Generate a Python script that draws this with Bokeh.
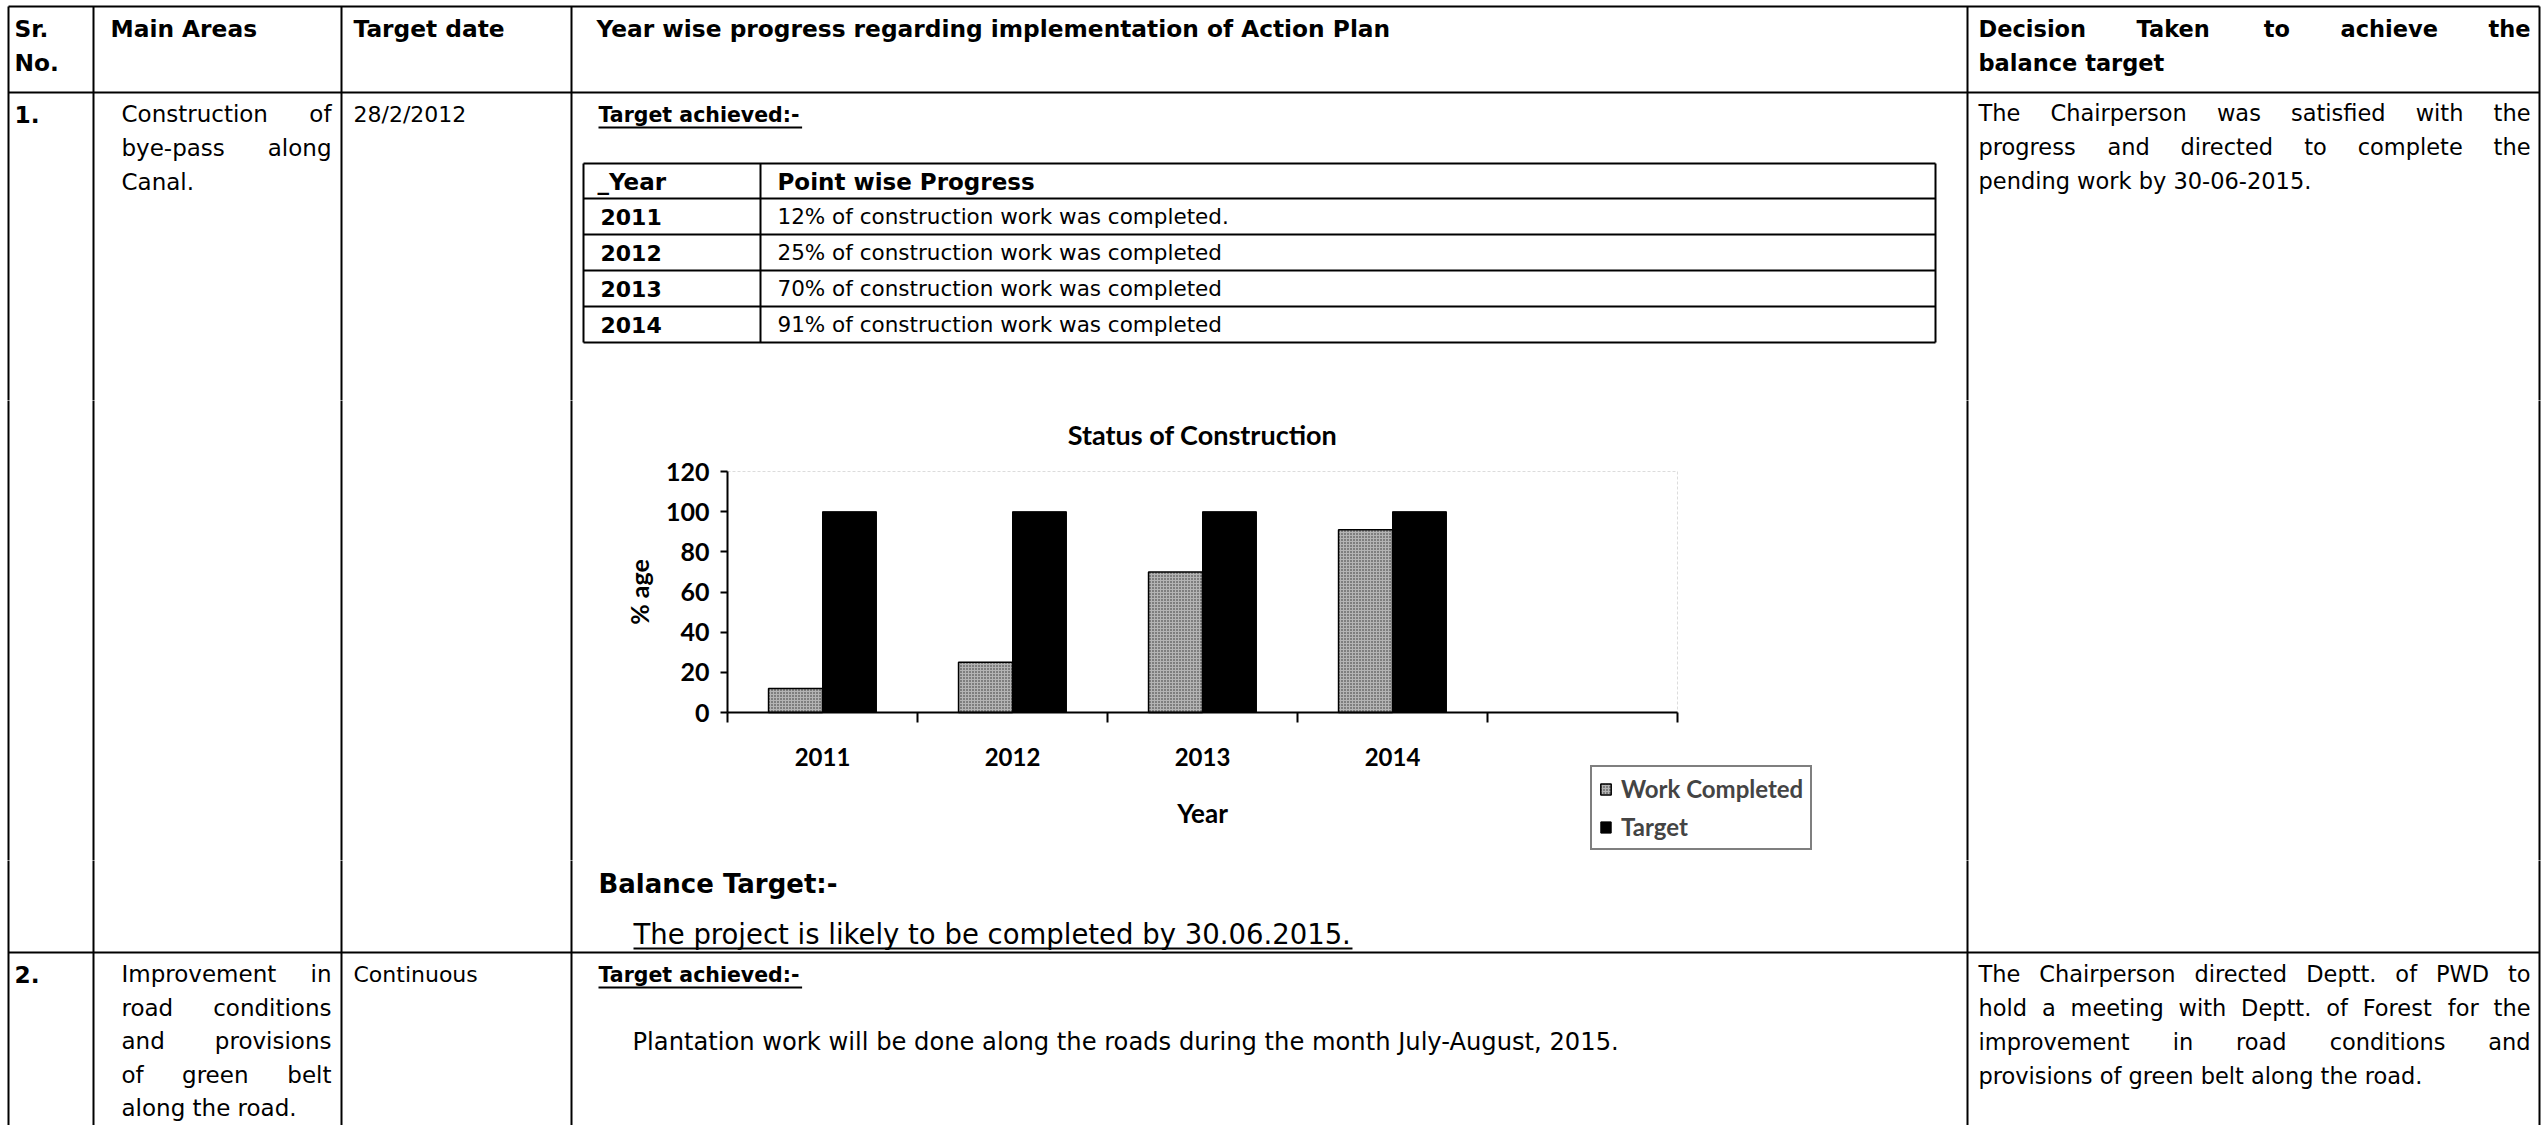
from bokeh.plotting import figure
from bokeh.models import (Range1d, FixedTicker, ColumnDataSource, Legend, LegendItem,
                          Label, BoxAnnotation)
from bokeh.layouts import column, row
from bokeh.transform import dodge
from bokeh.core.properties import value
from bokeh.embed import file_html
from bokeh.resources import INLINE

# ---------------- chart data ----------------
years = ["2011", "2012", "2013", "2014"]
work_completed = [12, 25, 70, 91]
target = [100, 100, 100, 100]
y_ticks = [0, 20, 40, 60, 80, 100, 120]
n_slots = 5  # four years + one empty category slot on the axis
series_names = ["Work Completed", "Target"]
chart_title = "Status of Construction"

# ---------------- table text ----------------
hdr_sr = ["Sr.", "No."]
hdr_main = "Main Areas"
hdr_date = "Target date"
hdr_prog = "Year wise progress regarding implementation of Action Plan"
hdr_dec = ["Decision Taken to achieve the", "balance target"]

r1_no = "1."
r1_area = ["Construction of", "bye-pass along", "Canal."]
r1_date = "28/2/2012"
r1_head = "Target achieved:-"
inner_hdr = ["_Year", "Point wise Progress"]
prog_years = ["2011", "2012", "2013", "2014"]
prog_text = ["12% of construction work was completed.",
             "25% of construction work was completed",
             "70% of construction work was completed",
             "91% of construction work was completed"]
r1_dec = ["The Chairperson was satisfied with the",
          "progress and directed to complete the",
          "pending work by 30-06-2015."]
bal_head = "Balance Target:-"
bal_text = "The project is likely to be completed by 30.06.2015."

r2_no = "2."
r2_area = ["Improvement in", "road conditions", "and provisions", "of green belt", "along the road."]
r2_date = "Continuous"
r2_head = "Target achieved:-"
r2_text = "Plantation work will be done along the roads during the month July-August, 2015."
r2_dec = ["The Chairperson directed Deptt. of PWD to",
          "hold a meeting with Deptt. of Forest for the",
          "improvement in road conditions and",
          "provisions of green belt along the road."]

# ---------------- text metrics (approx. DejaVu Sans advance widths) ----------------
REG = {' ': .318, 'a': .613, 'b': .635, 'c': .550, 'd': .635, 'e': .615, 'f': .352, 'g': .635,
       'h': .634, 'i': .278, 'j': .278, 'k': .579, 'l': .278, 'm': .974, 'n': .634, 'o': .612,
       'p': .635, 'q': .635, 'r': .411, 's': .521, 't': .392, 'u': .634, 'v': .592, 'w': .818,
       'x': .592, 'y': .592, 'z': .525, 'A': .684, 'B': .686, 'C': .698, 'D': .770, 'E': .632,
       'F': .575, 'G': .775, 'H': .752, 'I': .295, 'J': .295, 'K': .656, 'L': .557, 'M': .863,
       'N': .748, 'O': .787, 'P': .603, 'R': .695, 'S': .635, 'T': .611, 'U': .732, 'V': .684,
       'W': .989, 'Y': .611, '.': .318, ',': .318, '-': .361, ':': .337, '%': .950, '/': .337}
BOLD = {' ': .348, 'a': .675, 'b': .716, 'c': .593, 'd': .716, 'e': .678, 'f': .435, 'g': .716,
        'h': .712, 'i': .343, 'k': .665, 'l': .343, 'm': 1.042, 'n': .712, 'o': .687, 'p': .716,
        'r': .493, 's': .595, 't': .478, 'u': .712, 'v': .652, 'w': .924, 'y': .652, 'A': .774,
        'B': .762, 'C': .734, 'D': .830, 'M': .995, 'N': .837, 'P': .733, 'S': .720, 'T': .682,
        'Y': .724, '.': .380, ':': .400, '-': .415, '_': .5}


def tw(s, size, bold=False):
    tbl = BOLD if bold else REG
    dflt = 0.696 if bold else 0.636
    return size * sum(tbl.get(c, dflt) for c in s)


FONT = "DejaVu Sans"
BASE_FIX = 0.35   # renderer draws 'alphabetic' text ~0.35em low; compensate
items = []      # (x, y, text, size, bold, align)
segs = []       # (x0, y0, x1, y1)


def put(x, y, s, size, bold=False, align="left"):
    items.append((x, y, s, size, bold, align))


def put_par(lines, x0, x1, y0, dy, size, bold=False):
    for k, line in enumerate(lines):
        y = y0 + k * dy
        words = line.split()
        if k == len(lines) - 1 or len(words) < 2:
            put(x0, y, line, size, bold)
            continue
        ws = [tw(w, size, bold) for w in words]
        gap = max((x1 - x0 - sum(ws)) / (len(words) - 1), tw(" ", size, bold))
        x = x0
        for i, (w, wd) in enumerate(zip(words, ws)):
            if i == len(words) - 1:
                put(x1, y, w, size, bold, "right")
            else:
                put(x, y, w, size, bold)
            x += wd + gap


# ---------------- page geometry (screen px, page origin at 0,0) ----------------
PX0, PY0, PX1, PY1 = 0, 0, 2544, 1125
COLS = [8, 93, 341, 571, 1967, 2539]
ROWS = [6, 92, 952]
INNER_X = [583, 760, 1935]
INNER_Y = [163, 198, 234, 270, 306, 342]
BAND_Y = [PY0, 400, 860, PY1]
MID_X = [PX0, 578, 1960, PX1]

for y in ROWS:
    segs.append((COLS[0], y, COLS[-1], y))
for x in COLS:
    segs.append((x, ROWS[0], x, PY1 + 5))
for y in INNER_Y:
    segs.append((INNER_X[0], y, INNER_X[-1], y))
for x in INNER_X:
    segs.append((x, INNER_Y[0], x, INNER_Y[-1]))

HB, BODY, DSZ, RSZ, TA = 23.3, 23, 22, 22.5, 20.5
# header
put(14, 36, hdr_sr[0], HB, True)
put(14, 70, hdr_sr[1], HB, True)
put(110, 36, hdr_main, HB, True)
put(353, 36, hdr_date, HB, True)
put(596, 36, hdr_prog, HB, True)
put_par(hdr_dec, 1978, 2530, 36, 34, RSZ, True)
# row 1
put(14, 122, r1_no, HB, True)
put_par(r1_area, 121, 331, 122, 34, BODY)
put(353, 122, r1_date, DSZ)
put(598, 122, r1_head, TA, True)
segs.append((598, 127, 598 + tw(r1_head, TA, True), 127))
put(597, 190, inner_hdr[0], 23, True)
put(777, 190, inner_hdr[1], 23, True)
for k, (yr, txt) in enumerate(zip(prog_years, prog_text)):
    put(600, 224 + 36 * k, yr, 22, True)
    put(777, 224 + 36 * k, txt, 21.5)
put_par(r1_dec, 1978, 2530, 120, 34, RSZ)
put(598, 893, bal_head, 26, True)
put(633, 943, bal_text, 27.5)
segs.append((633, 948, 633 + tw(bal_text, 27.5), 948))
# row 2
put(14, 982, r2_no, HB, True)
put_par(r2_area, 121, 331, 982, 33.5, BODY)
put(353, 982, r2_date, DSZ)
put(598, 982, r2_head, TA, True)
segs.append((598, 987, 598 + tw(r2_head, TA, True), 987))
put(632, 1050, r2_text, 24.2)
put_par(r2_dec, 1978, 2530, 981, 34, RSZ)


def band(x0, x1, y0, y1):
    f = figure(width=x1 - x0, height=y1 - y0, x_range=Range1d(x0, x1), y_range=Range1d(y1, y0),
               output_backend="svg", toolbar_location=None, x_axis_type=None, y_axis_type=None,
               min_border=0, outline_line_color=None, background_fill_color="white",
               border_fill_color="white")
    f.grid.visible = False
    f.segment(x0=[s[0] for s in segs], y0=[s[1] for s in segs],
              x1=[s[2] for s in segs], y1=[s[3] for s in segs],
              line_color="black", line_width=2)
    groups = {}
    for (x, y, s, size, bold, align) in items:
        if y0 - 5 <= y <= y1 + 30 and x0 - 5 <= x <= x1 + 5:
            groups.setdefault((size, bold, align), []).append((x, y - BASE_FIX * size, s))
    for (size, bold, align), g in groups.items():
        f.text(x=[a[0] for a in g], y=[a[1] for a in g], text=[a[2] for a in g],
               text_font=value(FONT), text_font_size=value(f"{size}px"),
               text_font_style="bold" if bold else "normal", text_color="black",
               text_align=align, text_baseline="alphabetic")
    return f


top = band(PX0, PX1, BAND_Y[0], BAND_Y[1])
left = band(MID_X[0], MID_X[1], BAND_Y[1], BAND_Y[2])
right = band(MID_X[2], MID_X[3], BAND_Y[1], BAND_Y[2])
bottom = band(PX0, PX1, BAND_Y[2], BAND_Y[3])

# ---------------- chart ----------------
# The chart figure's frame fills the whole figure; axes are drawn at fixed data
# locations so that the legend (outside the plot area) is not clipped.
CF = "Lato"
CW, CH = MID_X[2] - MID_X[1], BAND_Y[2] - BAND_Y[1]
PL, PR, PT, PB = 149, 283, 71, 148          # plot-area insets inside the chart figure
ymin, ymax = y_ticks[0], y_ticks[-1]
ppx = (CW - PL - PR) / n_slots
ppy = (CH - PT - PB) / (ymax - ymin)
xr = Range1d(-0.5 - PL / ppx, n_slots - 0.5 + PR / ppx)
yr = Range1d(ymin - PB / ppy, ymax + PT / ppy)

chart = figure(width=CW, height=CH, x_range=xr, y_range=yr, output_backend="svg",
               toolbar_location=None, min_border=0, outline_line_color=None,
               background_fill_color="white", border_fill_color="white")
chart.grid.visible = False

chart.add_layout(BoxAnnotation(left=-0.5, right=n_slots - 0.5, bottom=ymin, top=ymax,
                               fill_color=None, line_color="#8c8c8c", line_dash="3 2",
                               line_width=1, level="underlay"))

src = ColumnDataSource(dict(x=list(range(len(years))), wc=work_completed, tg=target))
bw = 0.284
r_wc = chart.vbar(x=dodge("x", -bw / 2), top="wc", width=bw, source=src,
                  fill_color="#b4b4b4", hatch_pattern="dot", hatch_color="#2c2c2c",
                  hatch_scale=3, hatch_weight=1, line_color="black", line_width=1.5)
r_tg = chart.vbar(x=dodge("x", bw / 2), top="tg", width=bw, source=src,
                  fill_color="black", line_color="black")

xa = chart.xaxis[0]
xa.fixed_location = ymin
xa.bounds = (-0.5, n_slots - 0.5)
xa.ticker = FixedTicker(ticks=list(range(len(years))),
                        minor_ticks=[i - 0.5 for i in range(n_slots + 1)])
xa.major_label_overrides = {i: y for i, y in enumerate(years)}
xa.major_tick_line_color = None
xa.major_tick_out = 0
xa.major_tick_in = 0
xa.minor_tick_out = 10
xa.minor_tick_in = 0
xa.minor_tick_line_color = "black"
xa.minor_tick_line_width = 2
xa.major_label_standoff = 25
xa.axis_label = "Year"
xa.axis_label_standoff = 28

ya = chart.yaxis[0]
ya.fixed_location = -0.5
ya.bounds = (ymin, ymax)
ya.ticker = FixedTicker(ticks=y_ticks, minor_ticks=[])
ya.major_tick_out = 7
ya.major_tick_in = 0
ya.major_tick_line_width = 2
ya.major_label_standoff = 11
ya.axis_label = "% age"
ya.axis_label_standoff = 9

for ax in (xa, ya):
    ax.axis_line_color = "black"
    ax.axis_line_width = 2
    ax.major_label_text_font = CF
    ax.major_label_text_font_style = "bold"
    ax.major_label_text_color = "black"
    ax.axis_label_text_font = CF
    ax.axis_label_text_font_style = "bold"
    ax.axis_label_text_color = "black"
xa.major_label_text_font_size = "24px"
ya.major_label_text_font_size = "25px"
xa.axis_label_text_font_size = "26px"
ya.axis_label_text_font_size = "25px"

chart.add_layout(Label(x=(n_slots - 1) / 2, y=ymax + (471 - 434) / ppy, text=chart_title,
                       text_align="center", text_baseline="middle", text_font=CF,
                       text_font_size="27px", text_font_style="bold", text_color="black"))

lg = Legend(items=[LegendItem(label=series_names[0], renderers=[r_wc]),
                   LegendItem(label=series_names[1], renderers=[r_tg])],
            location=(1590 - MID_X[1], BAND_Y[2] - 850))
lg.border_line_color = "black"
lg.border_line_width = 2
lg.background_fill_color = "white"
lg.background_fill_alpha = 1
lg.label_text_font = CF
lg.label_text_font_style = "bold"
lg.label_text_font_size = "24px"
lg.glyph_width = 13
lg.glyph_height = 14
lg.label_height = 26
lg.label_standoff = 9
lg.spacing = 9
lg.padding = 7
lg.margin = 0
chart.add_layout(lg, "center")

layout = column(top, row(left, chart, right), bottom)
open("out.html", "w").write(file_html(layout, INLINE))
